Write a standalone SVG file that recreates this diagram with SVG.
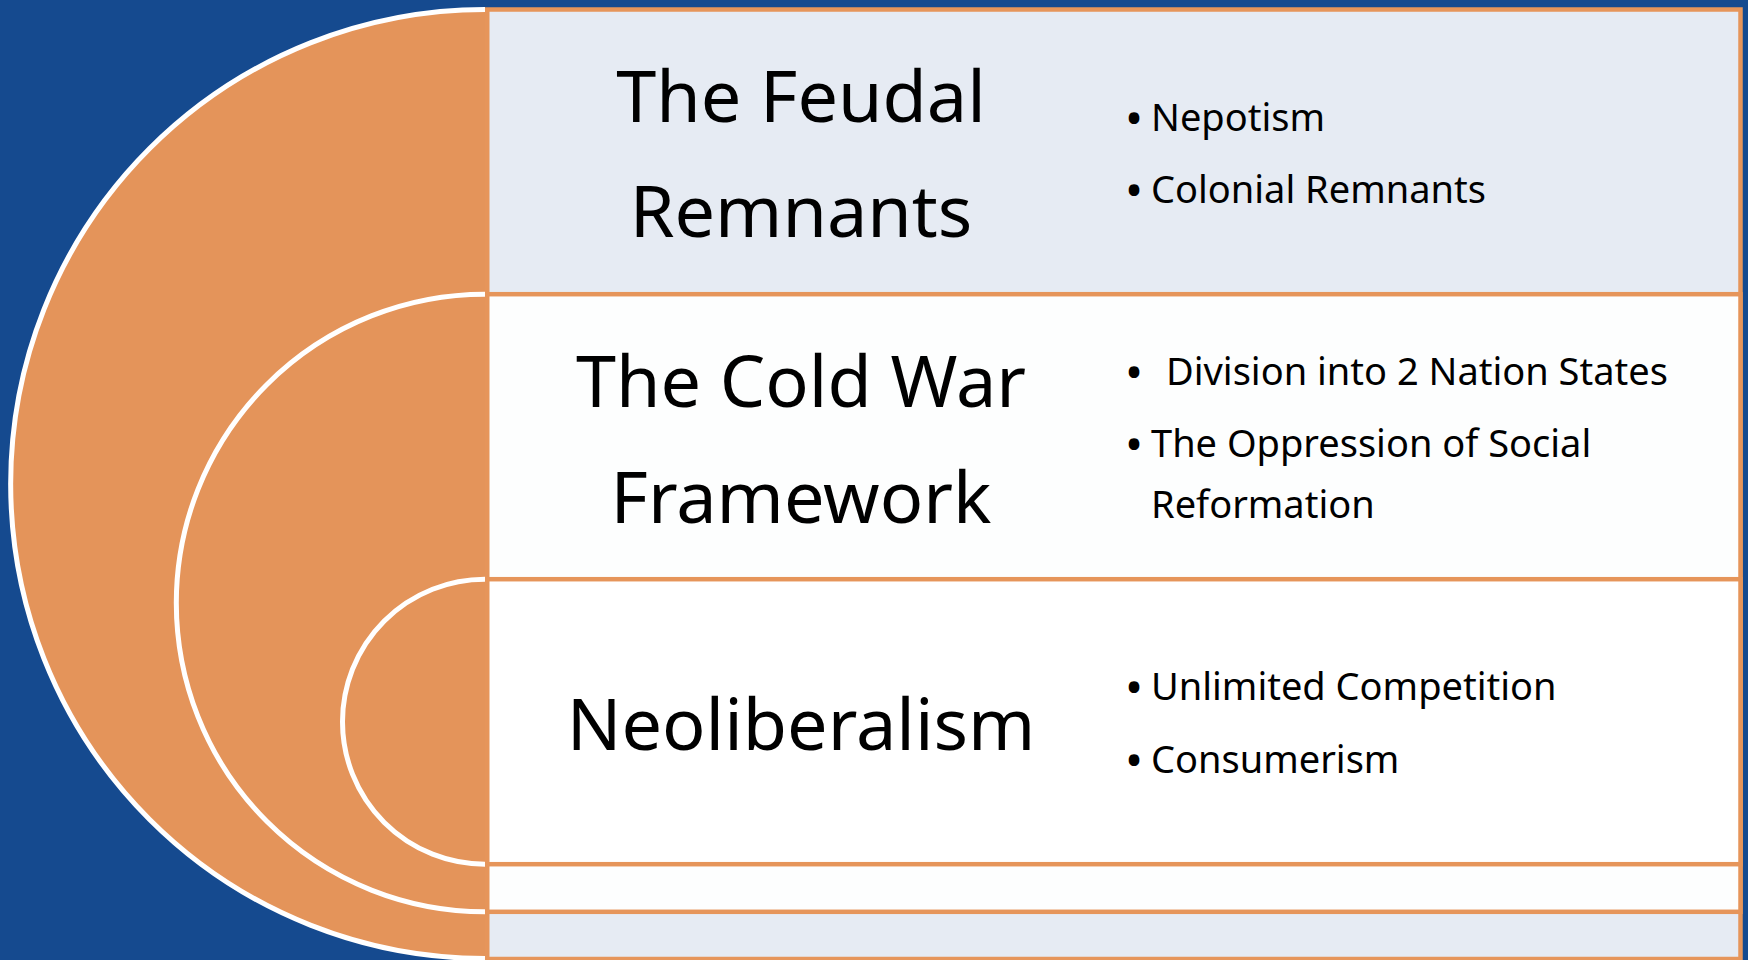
<svg xmlns="http://www.w3.org/2000/svg" width="1748" height="960" viewBox="0 0 1748 960">
  <style>
    .disk { fill: #E4945A; stroke: #FFFFFF; stroke-width: 5; }
    .panel { stroke: #E6955A; stroke-width: 4.5; }
    .title { font-family: "Noto Sans", "Open Sans", sans-serif; font-size: 72px; fill: #000000; text-anchor: middle; }
    .item { font-family: "Noto Sans", "Open Sans", sans-serif; font-size: 38px; fill: #000000; }
    .bullet { font-family: "Noto Sans", "Open Sans", sans-serif; font-size: 48px; fill: #000000; text-anchor: middle; }
  </style>
  <rect x="0" y="0" width="1748" height="960" fill="#154A8F"/>

  <g id="feudal-remnants">
    <path class="disk" d="M485,9.5 A474.5,474.5 0 0 0 485,958.5"/>
    <rect class="panel" x="487.25" y="9.5" width="1253.25" height="949.5" fill="#E6EBF3"/>
    <text class="title" x="801" y="122">The Feudal</text>
    <text class="title" x="801" y="237">Remnants</text>
    <text class="bullet" x="1134" y="135">•</text>
    <text class="item" x="1151" y="131">Nepotism</text>
    <text class="bullet" x="1134" y="207">•</text>
    <text class="item" x="1151" y="203">Colonial Remnants</text>
  </g>

  <g id="cold-war-framework">
    <path class="disk" d="M485,294.2 A308.8,308.8 0 0 0 485,911.8"/>
    <rect class="panel" x="487.25" y="294.2" width="1253.25" height="617.6" fill="#FDFEFE"/>
    <text class="title" x="801" y="407">The Cold War</text>
    <text class="title" x="801" y="523">Framework</text>
    <text class="bullet" x="1134" y="389">•</text>
    <text class="item" x="1166" y="385">Division into 2 Nation States</text>
    <text class="bullet" x="1134" y="461">•</text>
    <text class="item" x="1151" y="457">The Oppression of Social</text>
    <text class="item" x="1151" y="518">Reformation</text>
  </g>

  <g id="neoliberalism">
    <path class="disk" d="M485,579.2 A142.5,142.5 0 0 0 485,864.2"/>
    <rect class="panel" x="487.25" y="579.2" width="1253.25" height="285" fill="#FFFFFF"/>
    <text class="title" x="801" y="750">Neoliberalism</text>
    <text class="bullet" x="1134" y="704">•</text>
    <text class="item" x="1151" y="700">Unlimited Competition</text>
    <text class="bullet" x="1134" y="777">•</text>
    <text class="item" x="1151" y="773">Consumerism</text>
  </g>

  <g id="connectors"/>
</svg>
